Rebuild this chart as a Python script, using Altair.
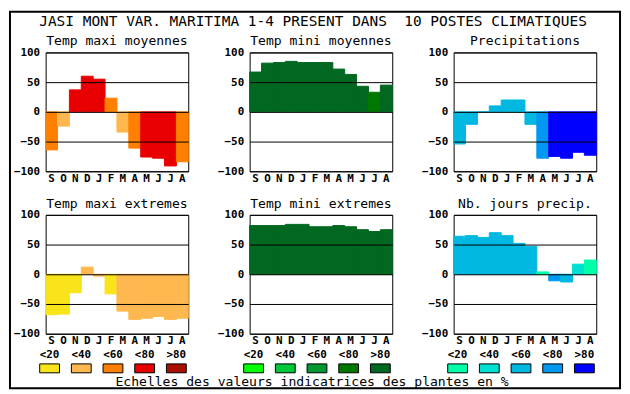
import altair as alt
import pandas as pd

MONO = "DejaVu Sans Mono"

MONTHS = ["sept", "oct", "nov", "déc", "janv", "févr", "mars", "avr", "mai", "juin", "juil", "août"]
THRESHOLDS = ["<20", "<40", "<60", "<80", ">80"]

PAL_ORANGE = ["#F8E418", "#FFB850", "#FF8000", "#E80000", "#A81000"]
PAL_GREEN = ["#00FF00", "#00C838", "#009830", "#007800", "#006820"]
PAL_BLUE = ["#00FFA8", "#00E0D0", "#00B8E0", "#0098F0", "#0000FF"]

MAIN_TITLE = "JASI MONT VAR. MARITIMA 1-4 PRESENT DANS\u00a0 10 POSTES CLIMATIQUES"
FOOTER = "Echelles des valeurs indicatrices des plantes en %"

TITLES = ["Temp maxi moyennes", "Temp mini moyennes", "Precipitations",
          "Temp maxi extremes", "Temp mini extremes", "Nb. jours precip."]

TMAX_MOY = [-64, -24, 37, 60, 55, 23, -34, -61, -76, -78, -91, -84]
TMAX_MOY_CLS = [2, 1, 3, 3, 3, 2, 1, 2, 3, 3, 3, 2]
TMIN_MOY = [67, 82, 83, 85, 83, 83, 83, 72, 63, 43, 33, 45]
TMIN_MOY_CLS = [4, 4, 4, 4, 4, 4, 4, 4, 4, 4, 3, 4]
PRECIP = [-54, -21, 0, 10, 20, 20, -21, -78, -75, -78, -68, -73]
PRECIP_CLS = [2, 2, 2, 2, 2, 2, 2, 3, 4, 4, 4, 4]
TMAX_EXT = [-68, -67, -31, 12, -3, -33, -62, -76, -74, -71, -76, -74]
TMAX_EXT_CLS = [0, 0, 0, 1, 1, 0, 1, 1, 1, 1, 1, 1]
TMIN_EXT = [82, 82, 82, 84, 84, 80, 80, 82, 80, 75, 72, 75]
TMIN_EXT_CLS = [4, 4, 4, 4, 4, 4, 4, 4, 4, 4, 4, 4]
JOURS = [64, 65, 62, 70, 65, 52, 47, 4, -11, -13, 17, 24]
JOURS_CLS = [2, 2, 2, 2, 2, 2, 2, 0, 3, 2, 1, 0]

SERIES = [
    (TITLES[0], TMAX_MOY, TMAX_MOY_CLS, PAL_ORANGE),
    (TITLES[1], TMIN_MOY, TMIN_MOY_CLS, PAL_GREEN),
    (TITLES[2], PRECIP, PRECIP_CLS, PAL_BLUE),
    (TITLES[3], TMAX_EXT, TMAX_EXT_CLS, PAL_ORANGE),
    (TITLES[4], TMIN_EXT, TMIN_EXT_CLS, PAL_GREEN),
    (TITLES[5], JOURS, JOURS_CLS, PAL_BLUE),
]

W, H = 144, 120

x_axis = alt.Axis(labelExpr="upper(substring(datum.label, 0, 1))", labelAngle=0,
                  ticks=False, domain=False, title=None, labelFont=MONO,
                  labelFontWeight="bold", labelFontSize=11, labelColor="black",
                  labelPadding=1)
y_axis = alt.Axis(values=[-100, -50, 0, 50, 100], ticks=False, domain=False, title=None,
                  grid=True, gridColor="black", gridOpacity=1, gridWidth=1, zindex=1,
                  labelFont=MONO, labelFontWeight="bold", labelFontSize=11,
                  labelColor="black", labelPadding=6)


def panel(i, title, values, classes, palette):
    df = pd.DataFrame({"month": MONTHS, "value": values,
                       "color": [palette[c] for c in classes]})
    bars = alt.Chart(df).mark_bar(strokeWidth=1).encode(
        x=alt.X("month:N", sort=MONTHS, scale=alt.Scale(paddingInner=0, paddingOuter=0), axis=x_axis),
        y=alt.Y("value:Q", scale=alt.Scale(domain=[-100, 100], nice=False), axis=y_axis),
        color=alt.Color("color:N", scale=None),
        stroke=alt.Stroke("color:N", scale=None),
    )
    layers = [bars]
    if i >= 3:
        ldf = pd.DataFrame({"thr": THRESHOLDS, "color": palette})
        lx = alt.X("thr:N", sort=THRESHOLDS,
                   scale=alt.Scale(type="band", domain=THRESHOLDS, range=[-12, 148],
                                   paddingInner=0.375, paddingOuter=0.1875),
                   axis=None)
        txt = alt.Chart(ldf).mark_text(font=MONO, fontSize=11, fontWeight="bold",
                                       baseline="alphabetic", color="black").encode(
            x=lx, y=alt.value(144.5), text="thr:N")
        boxes = alt.Chart(ldf).mark_rect(stroke="black", strokeWidth=1).encode(
            x=lx, y=alt.value(150.5), y2=alt.value(159.5),
            fill=alt.Fill("color:N", scale=None))
        layers += [txt, boxes]
    ch = alt.layer(*layers)
    if len(layers) > 1:
        ch = ch.resolve_scale(x="independent")
    return ch.properties(
        width=W, height=H,
        title=alt.TitleParams(title, font=MONO, fontSize=13.2, fontWeight="normal",
                              anchor="middle", frame="group", baseline="alphabetic",
                              offset=-12, color="black"))


panels = [panel(i, *s) for i, s in enumerate(SERIES)]

# frame, main title and footer, drawn from a thin cell placed under the first column
border = alt.Chart(pd.DataFrame({"b": [0]})).mark_rect(
    fill="transparent", stroke="black", strokeWidth=2).encode(
    x=alt.value(-36), x2=alt.value(580), y=alt.value(-369), y2=alt.value(11))
ttl = alt.Chart(pd.DataFrame({"t": [MAIN_TITLE]})).mark_text(
    font=MONO, fontSize=14.6, baseline="alphabetic", align="center", color="black").encode(
    x=alt.value(270), y=alt.value(-355), text="t:N")
foot = alt.Chart(pd.DataFrame({"t": [FOOTER]})).mark_text(
    font=MONO, fontSize=13.2, baseline="alphabetic", align="center", color="black").encode(
    x=alt.value(269), y=alt.value(8.5), text="t:N")
deco = alt.layer(border, ttl, foot).properties(
    width=W, height=1, view=alt.ViewConfig(stroke="transparent"))

chart = alt.concat(*panels, deco, columns=3, spacing={"row": 44, "column": 62}, bounds="flush").properties(
    padding=0, background="white"
).configure_view(stroke="black", strokeWidth=1)

chart.save("out.html", embed_options={"renderer": "svg", "actions": False})
